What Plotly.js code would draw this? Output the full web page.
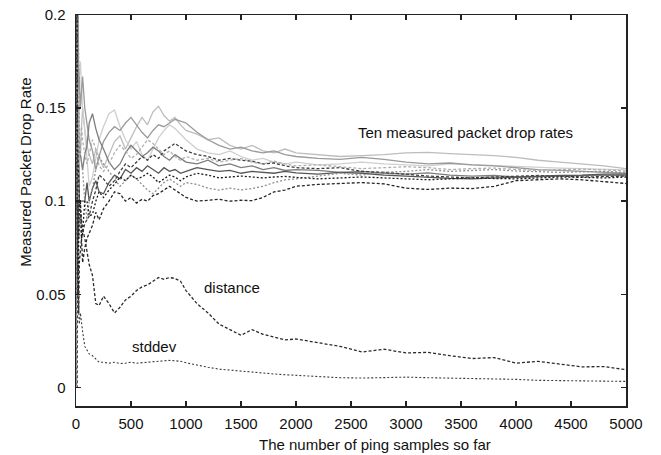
<!DOCTYPE html>
<html>
<head>
<meta charset="utf-8">
<script src="https://cdn.plot.ly/plotly-3.0.1.min.js"></script>
<style>html,body{margin:0;padding:0;background:#fff}#chart{width:661px;height:455px}</style>
</head>
<body>
<div id="chart"></div>
<script>
// Number of ping samples (x)
var samples = [1,2,3,4,5,6,8,10,12,15,20,25,30,40,50,60,80,100,120,150,180,210,250,300,350,400,450,500,550,600,650,700,750,800,850,900,950,1000,1100,1200,1300,1400,1500,1600,1700,1800,1900,2000,2200,2400,2600,2800,3000,3200,3400,3600,3800,4000,4200,4400,4600,4800,5000];

// Ten measured packet drop rates
var rate1 = [0,0.5,0.333,0.25,0.2,0.167,0.125,0.1,0.083,0.133,0.15,0.16,0.133,0.125,0.14,0.15,0.138,0.13,0.125,0.12,0.128,0.124,0.118,0.125,0.132,0.135,0.128,0.134,0.14,0.145,0.141,0.148,0.151,0.146,0.143,0.145,0.141,0.138,0.136,0.133,0.134,0.13,0.128,0.13,0.127,0.126,0.128,0.126,0.125,0.124,0.1245,0.125,0.126,0.1262,0.1255,0.125,0.1245,0.1235,0.122,0.121,0.12,0.119,0.1175];
var rate2 = [1,0.5,0.333,0.25,0.2,0.333,0.25,0.2,0.167,0.2,0.15,0.16,0.167,0.175,0.16,0.15,0.138,0.12,0.108,0.113,0.122,0.133,0.14,0.147,0.149,0.14,0.133,0.128,0.132,0.125,0.122,0.128,0.134,0.138,0.141,0.139,0.136,0.133,0.128,0.126,0.125,0.127,0.124,0.122,0.123,0.121,0.12,0.121,0.1195,0.12,0.121,0.12,0.1195,0.119,0.12,0.1195,0.119,0.1185,0.118,0.1178,0.1175,0.117,0.1168];
var rate3 = [0,0,0.333,0.25,0.4,0.333,0.25,0.3,0.25,0.2,0.2,0.16,0.167,0.15,0.16,0.167,0.15,0.14,0.133,0.127,0.117,0.124,0.132,0.137,0.14,0.138,0.142,0.145,0.141,0.137,0.134,0.138,0.141,0.14,0.142,0.144,0.143,0.142,0.137,0.133,0.13,0.128,0.129,0.127,0.126,0.127,0.125,0.124,0.123,0.1225,0.1235,0.1225,0.121,0.12,0.1205,0.1195,0.119,0.118,0.117,0.1165,0.116,0.1155,0.115];
var rate4 = [0,0,0,0,0.2,0.167,0.125,0.1,0.083,0.067,0.1,0.12,0.133,0.125,0.12,0.117,0.125,0.13,0.142,0.147,0.139,0.133,0.128,0.121,0.117,0.12,0.126,0.13,0.127,0.124,0.126,0.129,0.127,0.124,0.122,0.125,0.123,0.121,0.12,0.122,0.119,0.12,0.118,0.119,0.117,0.118,0.1165,0.117,0.1165,0.1155,0.116,0.115,0.1145,0.1152,0.114,0.1135,0.1138,0.113,0.1132,0.1135,0.1138,0.114,0.1138];
var rate5 = [1,0.5,0.333,0.5,0.4,0.333,0.25,0.2,0.167,0.133,0.1,0.08,0.1,0.1,0.08,0.083,0.088,0.09,0.092,0.1,0.106,0.114,0.112,0.108,0.111,0.116,0.12,0.118,0.121,0.124,0.122,0.125,0.123,0.127,0.129,0.131,0.129,0.127,0.125,0.124,0.122,0.123,0.122,0.1215,0.12,0.1205,0.119,0.118,0.1175,0.118,0.116,0.1155,0.1145,0.1135,0.113,0.1125,0.113,0.1135,0.1138,0.1135,0.113,0.1132,0.1135];
var rate6 = [0,0,0,0,0,0,0,0,0.083,0.067,0.05,0.04,0.067,0.075,0.08,0.067,0.075,0.08,0.083,0.087,0.094,0.09,0.096,0.1,0.105,0.104,0.1,0.102,0.099,0.101,0.1,0.103,0.104,0.106,0.108,0.106,0.104,0.102,0.1,0.1005,0.101,0.1,0.1005,0.1003,0.102,0.105,0.106,0.108,0.109,0.1095,0.11,0.1093,0.107,0.1063,0.107,0.1068,0.108,0.111,0.1115,0.112,0.1115,0.1105,0.1095];
var rate7 = [0,0.5,0.333,0.25,0.2,0.167,0.125,0.1,0.083,0.067,0.1,0.12,0.1,0.1,0.1,0.1,0.1,0.11,0.1,0.107,0.111,0.105,0.104,0.11,0.114,0.112,0.117,0.115,0.118,0.116,0.119,0.117,0.115,0.118,0.116,0.117,0.115,0.116,0.118,0.117,0.116,0.1165,0.115,0.116,0.1155,0.115,0.116,0.1152,0.1145,0.1155,0.115,0.114,0.1135,0.1128,0.1123,0.112,0.1125,0.1128,0.1132,0.1138,0.114,0.1145,0.1145];
var rate8 = [0,0,0.333,0.25,0.2,0.167,0.25,0.2,0.25,0.2,0.2,0.16,0.133,0.125,0.12,0.117,0.1,0.09,0.1,0.107,0.117,0.124,0.12,0.116,0.112,0.108,0.111,0.114,0.112,0.109,0.106,0.104,0.107,0.11,0.112,0.11,0.108,0.11,0.109,0.107,0.106,0.107,0.106,0.1068,0.108,0.11,0.1115,0.112,0.1135,0.115,0.114,0.1155,0.116,0.117,0.116,0.1165,0.117,0.1162,0.116,0.1155,0.1158,0.116,0.1155];
var rate9 = [0,0.5,0.333,0.25,0.2,0.167,0.125,0.2,0.167,0.133,0.1,0.12,0.133,0.125,0.14,0.133,0.125,0.12,0.125,0.133,0.128,0.119,0.116,0.12,0.126,0.13,0.127,0.123,0.125,0.129,0.133,0.131,0.128,0.125,0.127,0.124,0.122,0.124,0.122,0.123,0.121,0.122,0.123,0.121,0.12,0.1215,0.12,0.119,0.1195,0.1185,0.1175,0.118,0.1185,0.118,0.117,0.1175,0.1178,0.117,0.1165,0.117,0.1172,0.1168,0.1162];
var rate10 = [1,0.5,0.333,0.25,0.2,0.167,0.125,0.1,0.083,0.067,0.05,0.08,0.1,0.1,0.08,0.083,0.1,0.1,0.092,0.093,0.1,0.105,0.102,0.106,0.109,0.113,0.111,0.114,0.112,0.113,0.115,0.113,0.11,0.112,0.114,0.113,0.111,0.113,0.115,0.114,0.1125,0.113,0.1135,0.113,0.1125,0.113,0.1133,0.1128,0.112,0.1125,0.113,0.1125,0.112,0.1115,0.112,0.1125,0.1122,0.112,0.1125,0.113,0.1128,0.1125,0.113];

// Summary curves
var distance = [0.45,0.4,0.3,0.3,0.25,0.22,0.18,0.16,0.14,0.13,0.12,0.11,0.1,0.095,0.09,0.085,0.08,0.074,0.066,0.06,0.045,0.044,0.049,0.045,0.04,0.043,0.047,0.049,0.052,0.054,0.055,0.057,0.059,0.058,0.059,0.0585,0.057,0.052,0.045,0.04,0.034,0.031,0.028,0.031,0.0285,0.027,0.0255,0.026,0.024,0.022,0.019,0.0205,0.0185,0.0188,0.017,0.0155,0.016,0.013,0.014,0.0125,0.011,0.0112,0.0095];
var stddev = [0.3,0.25,0.2,0.15,0.12,0.1,0.085,0.07,0.06,0.05,0.042,0.037,0.034,0.04,0.034,0.03,0.022,0.02,0.018,0.017,0.015,0.0135,0.0135,0.013,0.0135,0.0128,0.013,0.0135,0.013,0.0133,0.0136,0.0138,0.014,0.0142,0.0145,0.0143,0.014,0.0132,0.0118,0.0108,0.0098,0.0092,0.0088,0.0082,0.0078,0.0072,0.0068,0.0064,0.0058,0.0052,0.005,0.0053,0.0055,0.0052,0.005,0.0048,0.0046,0.0043,0.0038,0.0036,0.0035,0.0033,0.0032];

var xTicks = [0,500,1000,1500,2000,2500,3000,3500,4000,4500,5000];
var yTicks = [0,0.05,0.1,0.15,0.2];
var yTickText = ['0','0.05','0.1','0.15','0.2'];
var xTitle = 'The number of ping samples so far';
var yTitle = 'Measured Packet Drop Rate';
var labelTexts = ["Ten measured packet drop rates","distance","stddev"];
var labelX = [3540,1420,712];
var labelY = [0.137,0.0535,0.0218];

var rates = [rate1,rate2,rate3,rate4,rate5,rate6,rate7,rate8,rate9,rate10];
var styles = [
  {color:'#bdbdbd', dash:'solid'},
  {color:'#cfcfcf', dash:'solid'},
  {color:'#9a9a9a', dash:'solid'},
  {color:'#7d7d7d', dash:'solid'},
  {color:'#3c3c3c', dash:'3px,2px'},
  {color:'#262626', dash:'3px,2px'},
  {color:'#555555', dash:'solid'},
  {color:'#8f8f8f', dash:'2px,2px'},
  {color:'#b0b0b0', dash:'3px,2px'},
  {color:'#1c1c1c', dash:'2px,2px'}
];
var traces = rates.map(function(r,i){
  return {x:samples, y:r, type:'scatter', mode:'lines', line:{color:styles[i].color, width:1.3, dash:styles[i].dash}, hoverinfo:'skip'};
});
traces.push({x:samples, y:distance, type:'scatter', mode:'lines', line:{color:'#2a2a2a', width:1.3, dash:'3px,2px'}});
traces.push({x:samples, y:stddev, type:'scatter', mode:'lines', line:{color:'#3a3a3a', width:1.1, dash:'2px,2px'}});

var fontFam = '"Liberation Sans", Arial, Helvetica, sans-serif';
var annots = labelTexts.map(function(t,i){
  return {x:labelX[i], y:labelY[i], xref:'x', yref:'y', text:t, showarrow:false, xanchor:'center', yanchor:'middle', font:{size:15, color:'#111'}};
});
annots.push({x:375, y:445, xref:'paper', yref:'paper', text:xTitle, showarrow:false, xanchor:'center', yanchor:'middle', font:{size:15, color:'#111'}});
annots.push({x:25, y:172, xref:'paper', yref:'paper', text:yTitle, textangle:-90, showarrow:false, xanchor:'center', yanchor:'middle', font:{size:15, color:'#111'}});
// convert pixel positions of the axis titles to paper coordinates
var L=75.5, R=34.5, T=14.7, B=49, W=661, H=455;
annots[3].x = (annots[3].x - L)/(W-L-R); annots[3].y = (H-B-annots[3].y)/(H-T-B);
annots[4].x = (annots[4].x - L)/(W-L-R); annots[4].y = (H-B-annots[4].y)/(H-T-B);

var layout = {
  width:W, height:H,
  margin:{l:L, r:R, t:T, b:B},
  paper_bgcolor:'#fff', plot_bgcolor:'#fff',
  showlegend:false,
  font:{family:fontFam, size:15, color:'#111'},
  xaxis:{range:[0,5000], tickvals:xTicks, ticks:'inside', ticklen:5, tickwidth:1.5, tickcolor:'#222',
    showline:true, linecolor:'#222', linewidth:1.5, mirror:'ticks', showgrid:false, zeroline:false,
    ticklabelstandoff:3},
  yaxis:{range:[-0.01,0.2], tickvals:yTicks, ticktext:yTickText, ticks:'inside', ticklen:5, tickwidth:1.5, tickcolor:'#222',
    showline:true, linecolor:'#222', linewidth:1.5, mirror:'ticks', showgrid:false, zeroline:false,
    ticklabelstandoff:6},
  annotations: annots
};
Plotly.newPlot('chart', traces, layout, {staticPlot:true});
</script>
</body>
</html>
